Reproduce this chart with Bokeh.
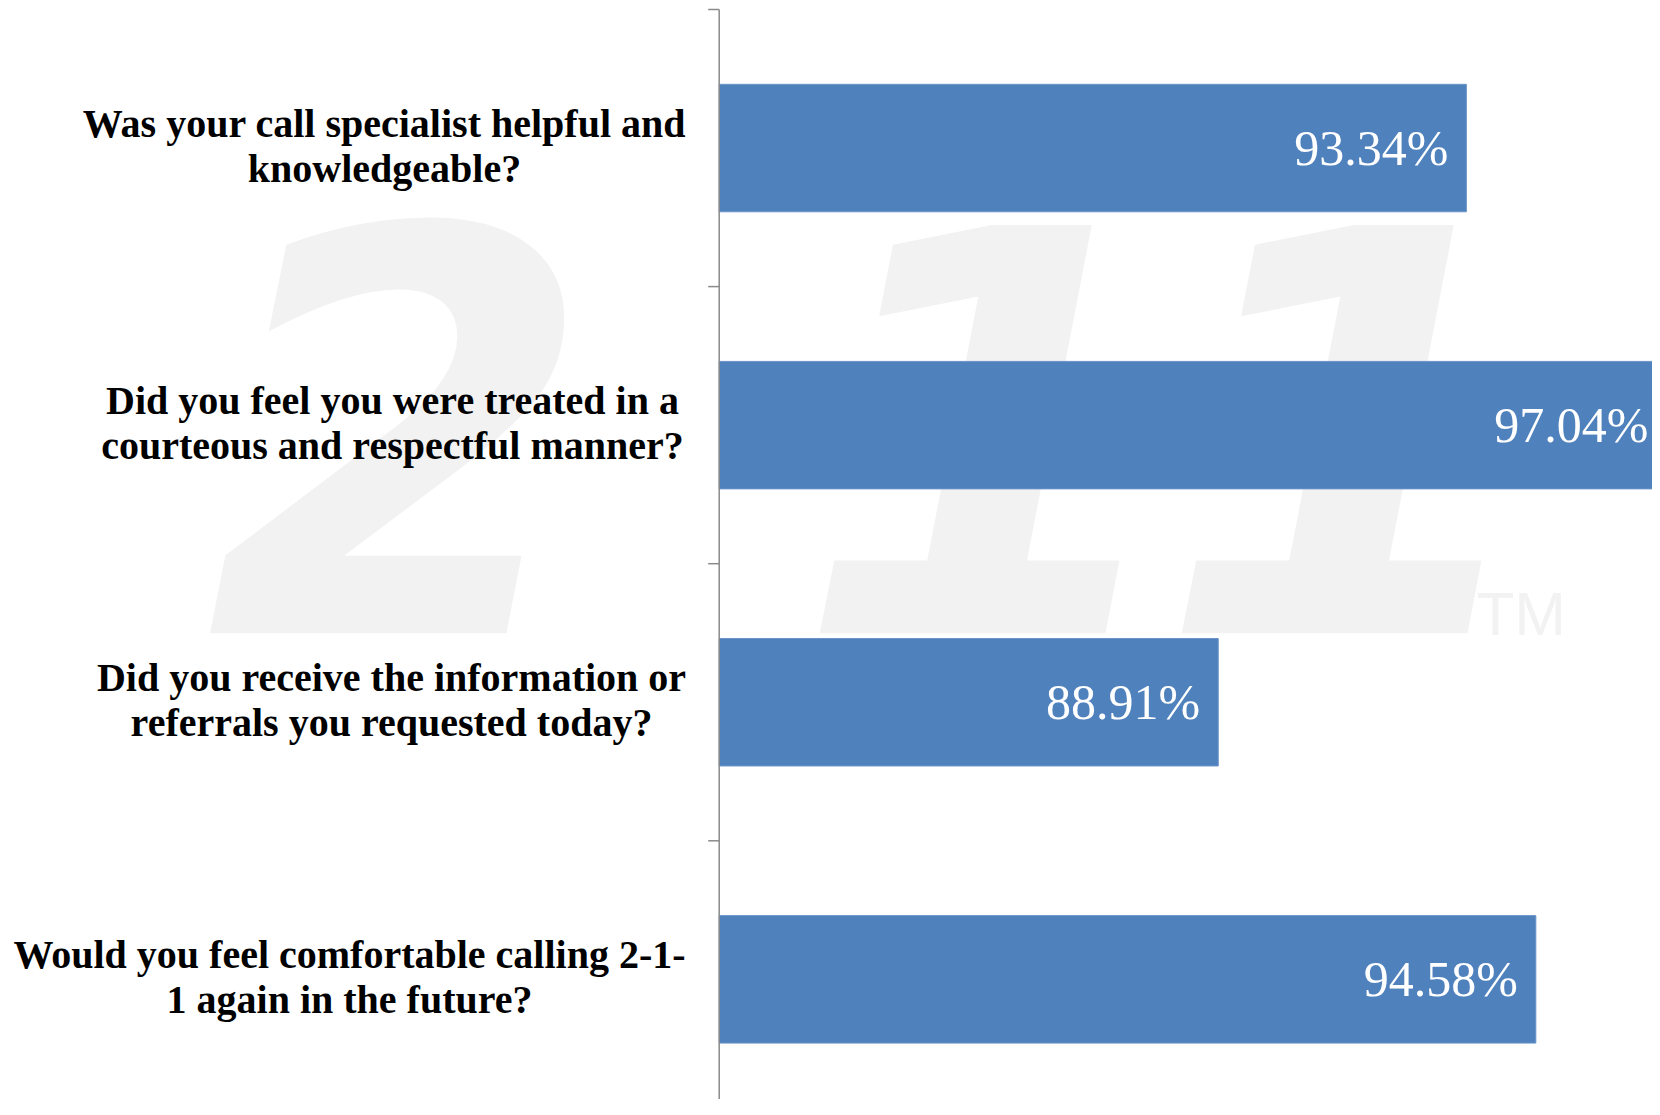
from bokeh.plotting import figure
from bokeh.models import Range1d, Label, ColumnDataSource
from bokeh.core.properties import value
from bokeh.embed import file_html
from bokeh.resources import INLINE

# ---- data ----
questions = [
    "Was your call specialist helpful and\nknowledgeable?",
    "Did you feel you were treated in a\ncourteous and respectful manner?",
    "Did you receive the information or\nreferrals you requested today?",
    "Would you feel comfortable calling 2-1-\n1 again in the future?",
]
percent = [93.34, 97.04, 88.91, 94.58]
value_labels = [f"{v:.2f}%" for v in percent]
axis_min = 80.0

# ---- layout constants ----
W, H = 1652, 1099
PX_PER_UNIT = 56.01          # pixels per percentage point
AXIS_PX = 718.7              # screen x of the value axis
CAT_PX = 277.1               # pixel height of one category
TOP_PX = 9.0                 # screen y of top of first category
LABEL_CENTER_PX = [384, 392, 391, 349]   # centre of each (right-aligned) label block

n = len(questions)
ys = [n - i - 0.5 for i in range(n)]

x_start = axis_min - AXIS_PX / PX_PER_UNIT
x_end = axis_min + (W - AXIS_PX) / PX_PER_UNIT
y_end = n + TOP_PX / CAT_PX
y_start = y_end - H / CAT_PX

# keep value labels inside the visible canvas
val_offsets = []
for v in percent:
    right_px = AXIS_PX + (v - axis_min) * PX_PER_UNIT - 18
    val_offsets.append(-18 - max(0.0, right_px - (W - 4)))

p = figure(width=W, height=H, output_backend="svg", toolbar_location=None,
           x_range=Range1d(x_start, x_end), y_range=Range1d(y_start, y_end),
           x_axis_location=None, y_axis_location=None, min_border=0)
p.outline_line_color = None
p.xgrid.grid_line_color = None
p.ygrid.grid_line_color = None
p.background_fill_color = "white"
p.border_fill_color = "white"

# ---- faint watermark (2-1-1 logo) ----
wm = "#f2f2f2"
WM_SIZE = 560
for txt, xc in [("2", 400), ("1", 990), ("1", 1352)]:
    lab = Label(x=xc, y=H - (627 - 0.357 * WM_SIZE), x_units="screen", y_units="screen", text=txt,
                text_font="DejaVu Sans", text_font_style="bold italic",
                text_font_size=f"{WM_SIZE}px", text_color=wm, text_align="center",
                text_baseline="alphabetic", level="underlay")
    p.add_layout(lab)
p.add_layout(Label(x=1476, y=H - (635 - 0.357 * 62), x_units="screen", y_units="screen", text="TM",
                   text_font="Liberation Sans", text_font_size="62px", text_color=wm,
                   text_align="left", text_baseline="alphabetic", level="underlay"))

# ---- bars ----
src = ColumnDataSource(dict(y=ys, v=percent, q=questions, lab=value_labels,
                            left=[axis_min] * n, voff=val_offsets,
                            qoff=[c - AXIS_PX for c in LABEL_CENTER_PX]))
p.hbar(y="y", left="left", right="v", height=0.46, source=src,
       fill_color="#4f81bd", line_color="#6a93c8", line_width=1)

# ---- value labels ----
p.text(x="v", y="y", text="lab", source=src, x_offset="voff", y_offset=0,
       text_align="right", text_baseline="alphabetic",
       text_font=value("Liberation Serif"), text_font_size="50px", text_color="white")

# ---- category axis: line + ticks ----
tick_len = 11 / PX_PER_UNIT
p.segment(x0=[axis_min], y0=[y_start], x1=[axis_min], y1=[n], line_color="#8a8a8a", line_width=1.5)
bounds = list(range(n, 0, -1))
p.segment(x0=[axis_min - tick_len] * len(bounds), y0=bounds,
          x1=[axis_min] * len(bounds), y1=bounds, line_color="#8a8a8a", line_width=1.5)

# ---- category labels ----
p.text(x="left", y="y", text="q", source=src, x_offset="qoff", y_offset=-2,
       text_align="center", text_baseline="middle",
       text_font=value("Liberation Serif"), text_font_style="bold",
       text_font_size="40px", text_line_height=1.0, text_color="black")

open("out.html", "w").write(file_html(p, INLINE))
